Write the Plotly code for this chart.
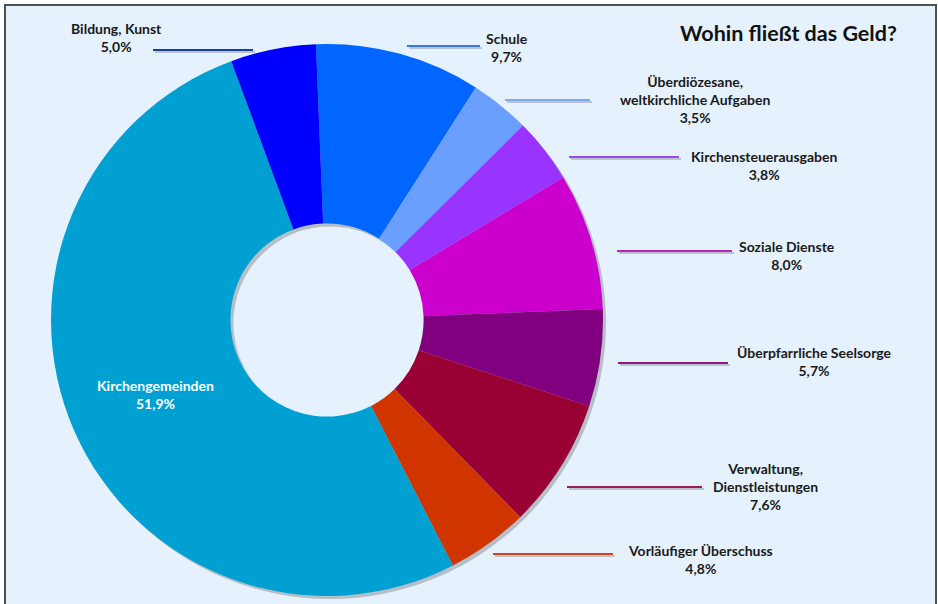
import plotly.graph_objects as go

# ---- data ----
categories = [
    "Schule",
    "Überdiözesane, weltkirchliche Aufgaben",
    "Kirchensteuerausgaben",
    "Soziale Dienste",
    "Überpfarrliche Seelsorge",
    "Verwaltung, Dienstleistungen",
    "Vorläufiger Überschuss",
    "Kirchengemeinden",
    "Bildung, Kunst",
]
values = [9.7, 3.5, 3.8, 8.0, 5.7, 7.6, 4.8, 51.9, 5.0]
label_text = [
    "Schule",
    "Überdiözesane,<br>weltkirchliche Aufgaben",
    "Kirchensteuerausgaben",
    "Soziale Dienste",
    "Überpfarrliche Seelsorge",
    "Verwaltung,<br>Dienstleistungen",
    "Vorläufiger Überschuss",
    "Kirchengemeinden",
    "Bildung, Kunst",
]
title_text = "Wohin fließt das Geld?"

# ---- styles ----
slice_colors = ["#0066ff", "#6a9fff", "#9933ff", "#cc00cc", "#800080",
                "#990033", "#d03500", "#00a0d2", "#0000ff"]
line_colors = ["#3a78e0", "#7ea8f0", "#9a48f0", "#b824c0", "#8a1a8a",
               "#9a1e50", "#d04420", None, "#1a3f9a"]
# label anchor (px) and leader line (x0, x1, y) in px
label_pos = [(507, 48), (695, 100), (764, 166), (787, 256), (814, 361),
             (765, 486), (700, 559), (155, 394), (116, 38)]
leader = [(407, 480, 46), (505, 590, 100), (569, 679, 157), (617, 732, 251),
          (618, 728, 363), (567, 702, 487), (493, 613, 554), None, (153, 253, 50)]

W, H = 938, 604
FONT = "Lato"


def px(x):
    return x / W


def py(y):
    return 1 - y / H


def fmt(v):
    return f"{v:.1f}".replace(".", ",") + "%"


# pie geometry (px)
cx, cy, R = 327, 320, 276
dom_x = [px(cx - R), px(cx + R)]
dom_y = [py(cy + R), py(cy - R)]
sh = 3
sdom_x = [px(cx - R + sh), px(cx + R + sh)]
sdom_y = [py(cy + R + sh), py(cy - R + sh)]

fig = go.Figure()

# drop shadow ring
fig.add_trace(go.Pie(
    values=[1], labels=["shadow"], hole=0.35, sort=False,
    marker=dict(colors=["rgba(60,60,60,0.28)"], line=dict(width=0)),
    textinfo="none", hoverinfo="skip", showlegend=False,
    domain=dict(x=sdom_x, y=sdom_y),
))

fig.add_trace(go.Pie(
    values=values, labels=categories, hole=0.35, sort=False,
    direction="clockwise", rotation=-2.3,
    marker=dict(colors=slice_colors, line=dict(width=0)),
    textinfo="none", hoverinfo="label+percent", showlegend=False,
    domain=dict(x=dom_x, y=dom_y),
))

shapes = [
    # frame
    dict(type="rect", xref="paper", yref="paper",
         x0=px(5), x1=px(936), y0=py(610), y1=py(5),
         fillcolor="#e5f1fc", line=dict(color="#505050", width=2),
         layer="below"),
]
annotations = []
for i, cat in enumerate(categories):
    lx, ly = label_pos[i]
    color = "white" if leader[i] is None else "#1a1a1a"
    annotations.append(dict(
        x=px(lx), y=py(ly), xref="paper", yref="paper",
        text=f"<b>{label_text[i]}<br>{fmt(values[i])}</b>",
        showarrow=False, xanchor="center", yanchor="middle",
        align="center",
        font=dict(family=FONT, size=14, color=color),
    ))
    if leader[i] is not None:
        x0, x1, y = leader[i]
        shapes.append(dict(type="line", xref="paper", yref="paper",
                           x0=px(x0 + 2), x1=px(x1 + 2), y0=py(y + 2), y1=py(y + 2),
                           line=dict(color="rgba(90,90,90,0.3)", width=2),
                           layer="below"))
        shapes.append(dict(type="line", xref="paper", yref="paper",
                           x0=px(x0), x1=px(x1), y0=py(y), y1=py(y),
                           line=dict(color=line_colors[i], width=2),
                           layer="below"))

annotations.append(dict(
    x=px(788), y=py(33), xref="paper", yref="paper",
    text=f"<b>{title_text}</b>", showarrow=False,
    xanchor="center", yanchor="middle",
    font=dict(family=FONT, size=21.5, color="#111111"),
))

fig.update_layout(
    width=W, height=H,
    margin=dict(l=0, r=0, t=0, b=0),
    paper_bgcolor="white",
    plot_bgcolor="white",
    shapes=shapes,
    annotations=annotations,
    showlegend=False,
)

fig.write_html("out.html")
